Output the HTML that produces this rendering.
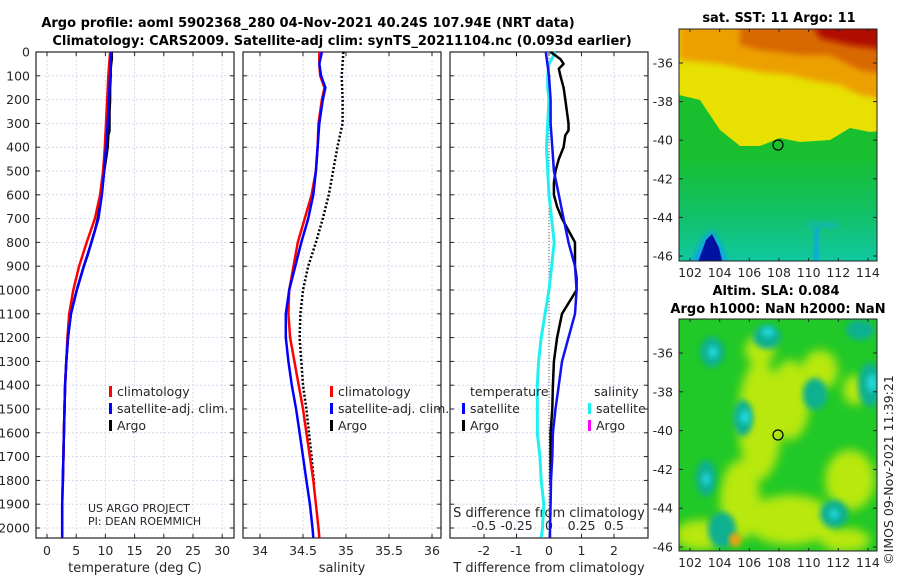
<!DOCTYPE html>
<html><head><meta charset="utf-8">
<style>
body{margin:0;background:#fff;}
svg{display:block;font-family:"DejaVu Sans","Liberation Sans",sans-serif;}
.tk{font-size:12.5px;fill:#262626;}
.ttl{font-size:13px;font-weight:bold;fill:#000;}
</style></head><body>
<svg id="c" width="900" height="580" viewBox="0 0 900 580">
<defs>
<filter id="bl" x="-20%" y="-20%" width="140%" height="140%"><feGaussianBlur stdDeviation="3"/></filter>
<filter id="bl2" x="-30%" y="-30%" width="160%" height="160%"><feGaussianBlur stdDeviation="5"/></filter>
<clipPath id="cm1"><rect x="679" y="29" width="198" height="232"/></clipPath>
<clipPath id="cm2"><rect x="679" y="319" width="198" height="232"/></clipPath>
<linearGradient id="sstg" x1="0" y1="0" x2="0" y2="1">
<stop offset="0" stop-color="#18c030"/><stop offset="0.55" stop-color="#18c030"/>
<stop offset="0.8" stop-color="#12c068"/><stop offset="1" stop-color="#10c8a0"/>
</linearGradient>
</defs>
<text class="ttl" x="308" y="27" text-anchor="middle">Argo profile: aoml 5902368_280 04-Nov-2021 40.24S 107.94E (NRT data)</text>
<text class="ttl" x="342" y="45" text-anchor="middle">Climatology: CARS2009. Satellite-adj clim: synTS_20211104.nc (0.093d earlier)</text>
<text class="ttl" x="779" y="22" text-anchor="middle">sat. SST: 11 Argo: 11</text>
<text class="ttl" x="776" y="295" text-anchor="middle">Altim. SLA: 0.084</text>
<text class="ttl" x="778" y="313" text-anchor="middle">Argo h1000: NaN h2000: NaN</text>
<text class="tk" x="893" y="470" transform="rotate(-90 893 470)" text-anchor="middle">©IMOS 09-Nov-2021 11:39:21</text>

<!-- SST map -->
<g clip-path="url(#cm1)">
<rect x="679" y="29" width="198" height="232" fill="url(#sstg)"/>
<polygon points="679,20 890,20 890,130 870,132 850,128 830,140 800,142 780,138 760,146 740,146 720,130 700,100 679,95" fill="#e8e000"/>
<polygon points="679,20 890,20 890,100 860,95 840,85 810,80 790,75 760,72 740,68 720,64 700,62 679,60" fill="#eca000" filter="url(#bl)"/>
<polygon points="740,20 890,20 890,75 860,70 830,55 800,55 760,50 740,45" fill="#d86800" filter="url(#bl)"/>
<polygon points="810,20 890,20 890,50 850,45 820,38" fill="#b00800" filter="url(#bl)"/>
<polygon points="690,265 704,238 712,230 722,248 728,265" fill="#10a0f0" filter="url(#bl)"/>
<polygon points="697,265 706,240 712,234 719,248 723,265" fill="#0010a0"/>
<rect x="808" y="222" width="30" height="6" fill="#10b0d8" opacity="0.6" filter="url(#bl)"/>
<rect x="813" y="228" width="6" height="33" fill="#10a8e0" opacity="0.7"/>
</g>
<rect x="679" y="29" width="198" height="232" fill="none" stroke="#222" stroke-width="1"/>
<circle cx="778" cy="145" r="5" fill="none" stroke="#000" stroke-width="1.2"/>

<!-- SLA map -->
<g clip-path="url(#cm2)">
<rect x="679" y="319" width="198" height="232" fill="#20c828"/>
<g filter="url(#bl2)" fill="#b8e810">
<ellipse cx="760" cy="420" rx="22" ry="60"/><ellipse cx="790" cy="400" rx="20" ry="40"/>
<ellipse cx="790" cy="520" rx="45" ry="25"/><ellipse cx="850" cy="480" rx="25" ry="30"/>
<ellipse cx="740" cy="500" rx="20" ry="40"/><ellipse cx="820" cy="370" rx="18" ry="20"/>
<ellipse cx="700" cy="535" rx="25" ry="15"/><ellipse cx="845" cy="540" rx="25" ry="12"/>
<ellipse cx="760" cy="350" rx="15" ry="15"/><ellipse cx="855" cy="390" rx="12" ry="15"/>
</g>
<g filter="url(#bl)" fill="#10b090">
<ellipse cx="712" cy="352" rx="12" ry="15"/><ellipse cx="767" cy="337" rx="14" ry="12"/>
<ellipse cx="743" cy="418" rx="10" ry="18"/><ellipse cx="706" cy="478" rx="10" ry="18"/>
<ellipse cx="815" cy="394" rx="12" ry="16"/><ellipse cx="870" cy="385" rx="12" ry="22"/>
<ellipse cx="834" cy="514" rx="14" ry="14"/><ellipse cx="860" cy="330" rx="14" ry="10"/>
<ellipse cx="722" cy="530" rx="14" ry="18"/>
</g>
<g fill="#20d8e0" filter="url(#bl)">
<ellipse cx="713" cy="352" rx="5" ry="6"/><ellipse cx="768" cy="332" rx="6" ry="5"/><ellipse cx="745" cy="417" rx="5" ry="7"/>
<ellipse cx="706" cy="479" rx="4" ry="6"/><ellipse cx="872" cy="383" rx="5" ry="9"/><ellipse cx="834" cy="514" rx="5" ry="5"/>
</g>
<ellipse cx="735" cy="540" rx="6" ry="7" fill="#f0a010" filter="url(#bl)"/>
</g>
<rect x="679" y="319" width="198" height="232" fill="none" stroke="#222" stroke-width="1"/>
<circle cx="778" cy="435" r="5" fill="none" stroke="#000" stroke-width="1.2"/>

<g id="dyn"></g>
</svg>
<script>
// ---- data ----
const depthT = [0,100,200,300,400,500,600,700,800,900,1000,1100,1200,1300,1400,1500,1600,1700,1800,1900,2000,2040];
const tempClim = [10.8,10.5,10.3,10.1,9.9,9.6,9.1,8.2,6.8,5.5,4.5,3.8,3.5,3.3,3.1,3.0,2.9,2.8,2.7,2.6,2.6,2.6];
const tempSat = [11.0,10.8,10.6,10.4,10.1,9.8,9.4,8.8,7.6,6.3,5.1,4.1,3.6,3.3,3.1,3.0,2.9,2.8,2.7,2.6,2.6,2.6];
const depthArgo = [0,30,50,70,100,150,200,250,300,330,350,400,450,500,550,600,650,700,750,800,850,900,950,1000,1100,1200,1300,1400,1500,1600,1700,1820];
const tempArgo = [11.1,11.1,11.0,10.9,10.9,10.8,10.8,10.7,10.7,10.7,10.5,10.4,10.1,9.8,9.5,9.3,9.0,8.7,8.2,7.6,7.0,6.3,5.7,5.1,4.1,3.6,3.3,3.1,3.0,2.9,2.8,2.7];
const depthS = [0,50,100,150,200,300,400,500,600,700,800,900,1000,1100,1200,1300,1400,1500,1600,1700,1800,1900,2000,2040];
const salClim = [34.69,34.69,34.7,34.75,34.72,34.68,34.67,34.65,34.6,34.52,34.44,34.39,34.34,34.33,34.35,34.4,34.45,34.5,34.54,34.58,34.62,34.65,34.68,34.69];
const salSat = [34.72,34.69,34.71,34.76,34.73,34.69,34.67,34.65,34.62,34.56,34.48,34.41,34.34,34.3,34.3,34.33,34.37,34.42,34.46,34.5,34.54,34.58,34.61,34.62];
const depthSA = [0,100,200,300,400,500,600,700,800,900,1000,1100,1200,1300,1400,1500,1600,1700,1820];
const salArgo = [34.97,34.95,34.96,34.96,34.9,34.85,34.8,34.73,34.65,34.56,34.5,34.47,34.46,34.48,34.5,34.54,34.57,34.6,34.63];
const tDiffArgo = [0.05,0.35,0.45,0.3,0.35,0.45,0.5,0.55,0.6,0.6,0.5,0.45,0.3,0.2,0.15,0.15,0.25,0.4,0.6,0.8,0.8,0.8,0.85,0.85,0.4,0.25,0.15,0.12,0.1,0.05,0.05,0.05];
const tDiffSat = [-0.1,0.0,0.05,0.05,0.1,0.15,0.3,0.45,0.6,0.8,0.85,0.8,0.6,0.4,0.3,0.2,0.12,0.1,0.06,0.05,0.03,0.03,0.03,0.03];
const sDiffSat = [0.05,0.0,-0.01,-0.01,0.0,-0.01,-0.02,-0.01,0.0,0.02,0.04,0.02,0.0,-0.03,-0.06,-0.08,-0.09,-0.09,-0.09,-0.07,-0.06,-0.04,-0.05,-0.06];
const tTicks = [0,5,10,15,20,25,30];
const sTicks = [34,34.5,35,35.5,36];
const dTicks = [0,100,200,300,400,500,600,700,800,900,1000,1100,1200,1300,1400,1500,1600,1700,1800,1900,2000];
const dTLabels = [-2,-1,0,1,2];
const sDLabels = [-0.5,-0.25,0,0.25,0.5];
const lonTicks = [102,104,106,108,110,112,114];
const latTicks = [-36,-38,-40,-42,-44,-46];

// ---- axes ----
const Y = d => 52 + d*0.238;
const X1 = t => 47 + t*5.84;
const X2 = s => 260 + (s-34)*86;
const X3t = t => 549 + t*32.5;
const X3s = s => 549 + s*130;
const lonX = l => 690 + (l-102)*14.83;
const latY1 = l => 63 + (-36-l)*19.3;
const latY2 = l => 353 + (-36-l)*19.4;

const NS='http://www.w3.org/2000/svg';
const G=document.getElementById('dyn');
function mk(tag,attrs,parent){const e=document.createElementNS(NS,tag);for(const k in attrs)e.setAttribute(k,attrs[k]);(parent||G).appendChild(e);return e;}
function txt(x,y,s,anchor,cls){const e=mk('text',{x:x,y:y,'text-anchor':anchor||'middle',class:cls||'tk'});e.textContent=s;return e;}

const panels=[{x0:36,x1:234},{x0:243,x1:441},{x0:450,x1:648}];
panels.forEach((p,i)=>{
  const g=mk('g',{});
  
  
  dTicks.forEach(d=>{
    const l=mk('line',{x1:p.x0,x2:p.x1,y1:Y(d),y2:Y(d),stroke:'#d0d0ec','stroke-width':0.8,'stroke-dasharray':'2,2'},g);
    
    
    mk('line',{x1:p.x0,x2:p.x0+4,y1:Y(d),y2:Y(d),stroke:'#222'},g);
    mk('line',{x1:p.x1-4,x2:p.x1,y1:Y(d),y2:Y(d),stroke:'#222'},g);
  });
});
function vgrid(xs,fx,y0,lab,fmt){xs.forEach(v=>{
  const x=fx(v);
  const l=mk('line',{x1:x,x2:x,y1:52,y2:538,stroke:'#d0d0ec','stroke-width':0.8,'stroke-dasharray':'2,2'});
  
  
  mk('line',{x1:x,x2:x,y1:534,y2:538,stroke:'#222'});
  mk('line',{x1:x,x2:x,y1:52,y2:56,stroke:'#222'});
  if(lab){const t=txt(x,y0,fmt?fmt(v):String(v));
    
    }
});}
vgrid(tTicks,X1,555,true);
vgrid(sTicks,X2,555,true);
vgrid(dTLabels,X3t,555,true);
sDLabels.forEach(v=>{const t=txt(X3s(v),530,String(v));
  
  });
dTicks.forEach(d=>{const t=txt(30,Y(d)+4.5,String(d),'end');
  
  });
panels.forEach(p=>{const r=mk('rect',{x:p.x0,y:52,width:p.x1-p.x0,height:486,fill:'none',stroke:'#222','stroke-width':1.2});
  
  });
[['temperature (deg C)',135],['salinity',342],['T difference from climatology',549]].forEach(a=>{
  const t=txt(a[1],572,a[0]);t.setAttribute('style','font-size:13px');
  
  });
const st=txt(549,517,'S difference from climatology');st.setAttribute('style','font-size:13px');


const zl=mk('line',{x1:549,x2:549,y1:52,y2:538,stroke:'#555','stroke-width':1,'stroke-dasharray':'1,2'});



function line(ds,vs,fx,color,w,name,dash){
  const pts=ds.map((d,i)=>fx(vs[i]).toFixed(1)+','+Y(d).toFixed(1)).join(' ');
  const a={points:pts,fill:'none',stroke:color,'stroke-width':w,'stroke-linejoin':'round'};
  if(dash)a['stroke-dasharray']=dash;
  const e=mk('polyline',a);
  
  
}
line(depthArgo,tempArgo,X1,'#000',2.5,'temp-argo-line');
line(depthT,tempClim,X1,'#f00',2.5,'temp-climatology-line');
line(depthT,tempSat,X1,'#00f',2.5,'temp-satellite-line');
line(depthSA,salArgo,X2,'#000',2.5,'sal-argo-line','2,2');
line(depthS,salClim,X2,'#f00',2.5,'sal-climatology-line');
line(depthS,salSat,X2,'#00f',2.5,'sal-satellite-line');
line(depthS,sDiffSat,X3s,'#20f0f0',3,'sdiff-satellite-line');
line(depthArgo,tDiffArgo,X3t,'#000',2.5,'tdiff-argo-line');
line(depthT,tDiffSat,X3t,'#1010f0',2.5,'tdiff-satellite-line');

function leg(x,y,color,label,name){
  const r=mk('rect',{x:x,y:y-10,width:3,height:11,fill:color});
  
  
  const t=txt(x+8,y,label,'start');
  
  
}
leg(109,396,'#f00','climatology','legend-climatology');
leg(109,413,'#00f','satellite-adj. clim.','legend-satellite');
leg(109,430,'#000','Argo','legend-argo');
leg(330,396,'#f00','climatology','legend-sal-climatology');
leg(330,413,'#00f','satellite-adj. clim.','legend-sal-satellite');
leg(330,430,'#000','Argo','legend-sal-argo');
const lt=txt(470,396,'temperature','start');
const ls=txt(594,396,'salinity','start');
leg(462,413,'#00f','satellite','legend-tdiff-satellite');
leg(462,430,'#000','Argo','legend-tdiff-argo');
leg(588,413,'#20f0f0','satellite','legend-sdiff-satellite');
leg(588,430,'#f0f','Argo','legend-sdiff-argo');
const p1=txt(88,512,'US ARGO PROJECT','start');p1.setAttribute('style','font-size:11px');

const p2=txt(88,525,'PI: DEAN ROEMMICH','start');p2.setAttribute('style','font-size:11px');


[[29,261,latY1],[319,551,latY2]].forEach(m=>{
  lonTicks.forEach(l=>{const x=lonX(l);
    mk('line',{x1:x,x2:x,y1:m[1]-3,y2:m[1],stroke:'#222'});
    mk('line',{x1:x,x2:x,y1:m[0],y2:m[0]+3,stroke:'#222'});
    const t=txt(x,m[1]+16,String(l));
    
    });
  latTicks.forEach(l=>{const y=m[2](l);
    mk('line',{x1:679,x2:683,y1:y,y2:y,stroke:'#222'});
    mk('line',{x1:873,x2:877,y1:y,y2:y,stroke:'#222'});
    const t=txt(673,y+4.5,String(l),'end');
    
    });
});
</script>
</body></html>
